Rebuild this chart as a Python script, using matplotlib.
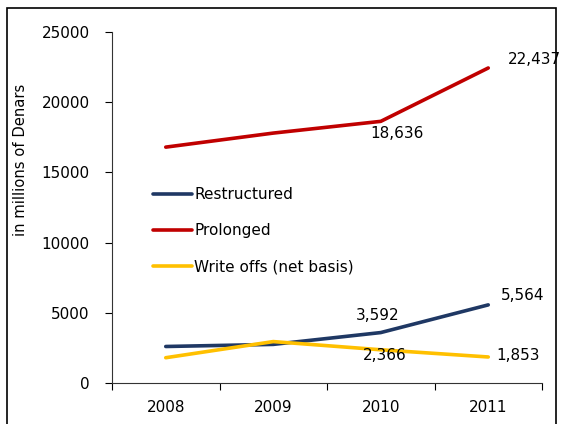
import matplotlib
matplotlib.use("Agg")
import matplotlib.pyplot as plt
from matplotlib.patches import Rectangle

years = ["2008", "2009", "2010", "2011"]
restructured = [2600, 2750, 3592, 5564]
prolonged = [16800, 17800, 18636, 22437]
write_offs = [1800, 2950, 2366, 1853]

plt.rcParams['font.family'] = ['DejaVu Sans']

W, H = 561, 424
fig = plt.figure(figsize=(W / 100, H / 100), dpi=100)
ax = fig.add_axes([112/W, 1 - 383/H, 430/W, 351/H])

x = [0.5, 1.5, 2.5, 3.5]
l1, = ax.plot(x, restructured, color='#1F3864', lw=2.6, label='Restructured', solid_capstyle='round')
l2, = ax.plot(x, prolonged, color='#C00000', lw=2.6, label='Prolonged', solid_capstyle='round')
l3, = ax.plot(x, write_offs, color='#FFC000', lw=2.6, label='Write offs (net basis)', solid_capstyle='round')

ax.set_xlim(0, 4)
ax.set_ylim(0, 25000)
ax.set_yticks(range(0, 25001, 5000))
ax.set_xticks([0, 1, 2, 3, 4])
ax.set_xticklabels([])
ax.set_xticks(x, minor=True)
ax.set_xticklabels(years, minor=True)
ax.tick_params(axis='x', which='minor', length=0, pad=12, labelsize=11)
ax.tick_params(axis='x', which='major', direction='out', length=5)
ax.tick_params(axis='y', direction='out', length=5, labelsize=11, pad=11)
for s in ['top', 'right']:
    ax.spines[s].set_visible(False)
for s in ['left', 'bottom']:
    ax.spines[s].set_color('#333333')

fig.text(21/W, 1 - 160/H, 'in millions of Denars', rotation=90, fontsize=10.6,
         ha='center', va='center')

def fmt(v):
    return "{:,}".format(v)

fs = 11
ax.annotate(fmt(prolonged[3]), (x[3], prolonged[3]), xytext=(14, 6), textcoords='offset points', fontsize=fs, va='center')
ax.annotate(fmt(prolonged[2]), (x[2], prolonged[2]), xytext=(12, -9), textcoords='offset points', fontsize=fs, va='center', ha='center')
ax.annotate(fmt(restructured[2]), (x[2], restructured[2]), xytext=(-2, 12), textcoords='offset points', fontsize=fs, va='center', ha='center')
ax.annotate(fmt(restructured[3]), (x[3], restructured[3]), xytext=(9, 7), textcoords='offset points', fontsize=fs, va='center')
ax.annotate(fmt(write_offs[2]), (x[2], write_offs[2]), xytext=(3, -4), textcoords='offset points', fontsize=fs, va='center', ha='center')
ax.annotate(fmt(write_offs[3]), (x[3], write_offs[3]), xytext=(6, 1), textcoords='offset points', fontsize=fs, va='center')

ax.legend(handles=[l1, l2, l3], loc='upper left', bbox_to_anchor=(153/W, 1 - 187/H),
          bbox_transform=fig.transFigure, frameon=False, borderpad=0, borderaxespad=0,
          fontsize=fs, handlelength=2.55, handletextpad=0.15, labelspacing=1.4)

fig.patches.append(Rectangle((7/W, -0.01), 549/W, 1 - 8/H + 0.01, transform=fig.transFigure,
                             fill=False, edgecolor='black', lw=1.2))

fig.savefig('out.png', dpi=100)
